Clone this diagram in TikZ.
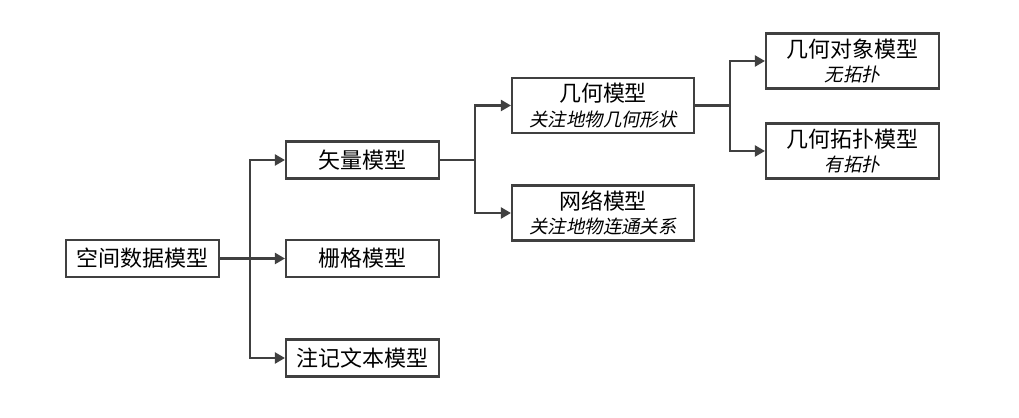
\documentclass[tikz,border=0pt]{standalone}
\usepackage{fontspec}
\setmainfont{Noto Sans CJK SC}
\newfontfamily\cjkit[FakeSlant=0.2]{Noto Sans CJK SC}
\usepackage{tikz}
\usetikzlibrary{arrows.meta}
\definecolor{linegray}{HTML}{404040}

\newcommand{\subtext}[1]{{\cjkit\fontsize{10.5}{12}\selectfont #1}}

\tikzset{
  box/.style={draw=linegray, line width=1.2pt, minimum height=0.74cm, inner sep=1pt, align=center, font=\fontsize{12.5}{14}\selectfont},
  tallbox/.style={box, minimum height=1.1cm},
  link/.style={draw=linegray, line width=1.2pt},
  arrow/.style={link, -{Triangle[length=0.2cm,width=0.22cm]}}
}

\begin{document}
\begin{tikzpicture}

        \useasboundingbox (0,0) rectangle (20.38,8.34);

        %nodes
        \node[box, minimum width=3.06cm] (root) at (2.85,3.17) {空间数据模型};
        \node[box, minimum width=3.06cm] (vec) at (7.25,5.14) {矢量模型};
        \node[box, minimum width=3.06cm] (ras) at (7.25,3.17) {栅格模型};
        \node[box, minimum width=3.06cm] (ann) at (7.25,1.18) {注记文本模型};
        \node[tallbox, minimum width=3.64cm] (geo) at (12.06,6.23) {几何模型\\\subtext{关注地物几何形状}};
        \node[tallbox, minimum width=3.64cm] (net) at (12.06,4.08) {网络模型\\\subtext{关注地物连通关系}};
        \node[tallbox, minimum width=3.46cm] (obj) at (17.05,7.12) {几何对象模型\\\subtext{无拓扑}};
        \node[tallbox, minimum width=3.46cm] (topo) at (17.05,5.32) {几何拓扑模型\\\subtext{有拓扑}};

        %branch points
        \coordinate (b1) at (5.0,3.17);
        \coordinate (b2) at (9.5,5.14);
        \coordinate (b3) at (14.6,6.23);

        %connectors
        \draw[link] (root.east) -- (b1);
        \draw[link] (vec.east) -- (b2);
        \draw[link] (geo.east) -- (b3);
        \foreach \i in {vec,ras,ann}
        \draw[arrow] (b1) |- (\i.west);
        \foreach \i in {geo,net}
        \draw[arrow] (b2) |- (\i.west);
        \foreach \i in {obj,topo}
        \draw[arrow] (b3) |- (\i.west);

\end{tikzpicture}
\end{document}
